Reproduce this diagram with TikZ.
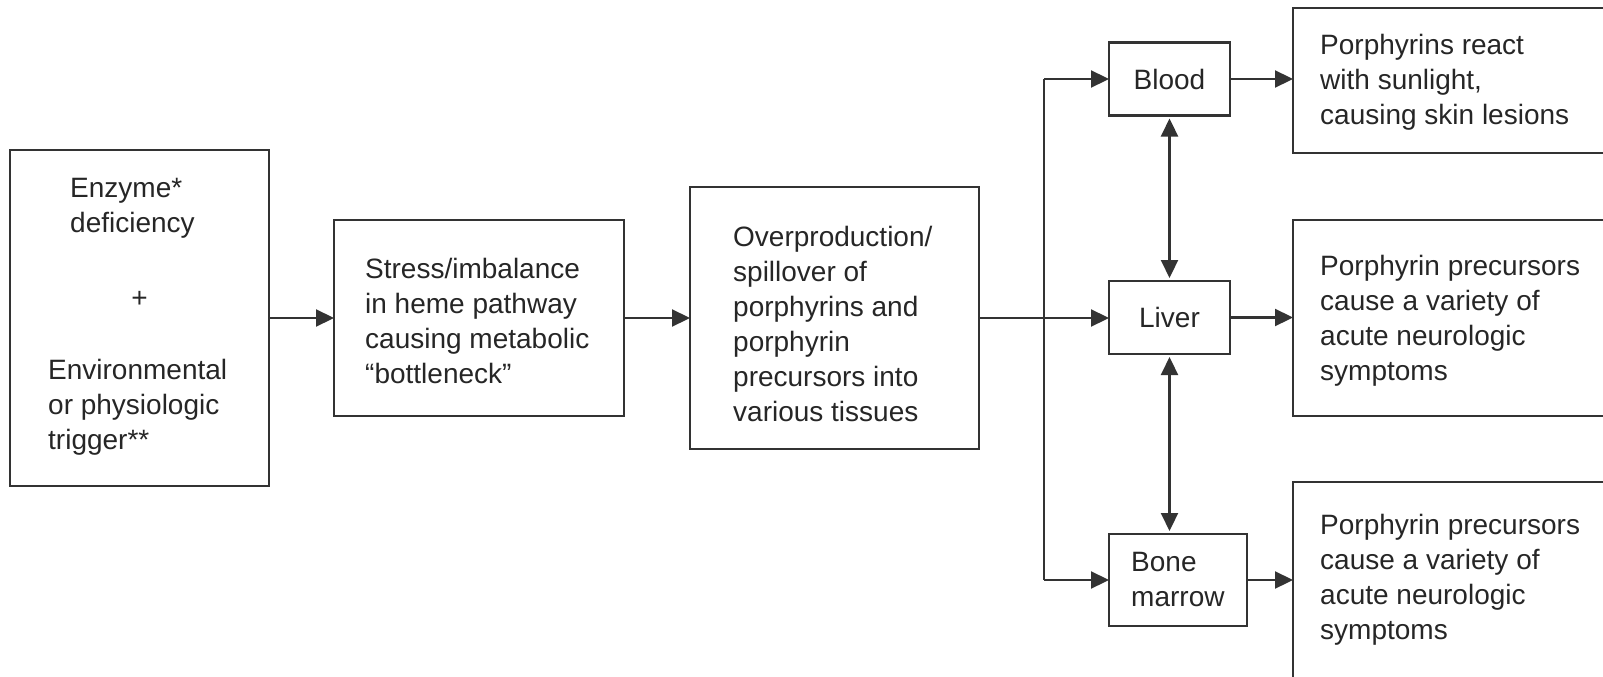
\documentclass[tikz,border=0pt]{standalone}
\usepackage{fontspec}
\setmainfont{Liberation Sans}
\usetikzlibrary{arrows.meta}
\definecolor{linec}{HTML}{333333}
\definecolor{txtc}{HTML}{262626}
\begin{document}
\begin{tikzpicture}[x=1pt,y=-1pt,
 box/.style={draw=linec,line width=2.2pt,inner sep=0pt,outer sep=0pt},
 txt/.style={text=txtc,font=\fontsize{28}{35}\selectfont,align=left,inner sep=0pt,anchor=west},
 arr/.style={draw=linec,line width=2.2pt,-{Triangle[length=18pt,width=17pt]}},
 darr/.style={draw=linec,line width=2.2pt,{Triangle[length=18pt,width=17pt]}-{Triangle[length=18pt,width=17pt]},shorten <=3pt,shorten >=3pt}]
\useasboundingbox (0,0) rectangle (1603,677);
% boxes
\node[box,minimum width=259pt,minimum height=336pt] (b1) at (139.5,318) {};
\node[box,minimum width=290pt,minimum height=196pt] (b2) at (479,318) {};
\node[box,minimum width=289pt,minimum height=262pt] (b3) at (834.5,318) {};
\node[box,minimum width=121pt,minimum height=73pt] (blood) at (1169.5,79) {};
\node[box,minimum width=121pt,minimum height=73pt] (liver) at (1169.5,317.5) {};
\node[box,minimum width=138pt,minimum height=92pt] (marrow) at (1178,580) {};
\node[box,minimum width=330pt,minimum height=145pt] (r1) at (1458,80.5) {};
\node[box,minimum width=330pt,minimum height=196pt] (r2) at (1458,318) {};
\node[box,minimum width=330pt,minimum height=208pt] (r3) at (1458,586) {};
% texts
\node[txt] (t1a) at (70,208) {Enzyme*\\deficiency};
\node[txt,anchor=center] (t1b) at (139.5,299) {+};
\node[txt] (t1c) at (48,407) {Environmental\\or physiologic\\trigger**};
\node[txt] (t2) at (365,321) {Stress/imbalance\\in heme pathway\\causing metabolic\\“bottleneck”};
\node[txt] (t3) at (733,324) {Overproduction/\\spillover of\\porphyrins and\\porphyrin\\precursors into\\various tissues};
\node[txt,anchor=center] (tblood) at (blood.center) {Blood};
\node[txt,anchor=center] (tliver) at (liver.center) {Liver};
\node[txt] (tmarrow) at (1131,579) {Bone\\marrow};
\node[txt] (tr1) at (1320,82) {Porphyrins react\\with sunlight,\\causing skin lesions};
\node[txt] (tr2) at (1320,321) {Porphyrin precursors\\cause a variety of\\acute neurologic\\symptoms};
\node[txt] (tr3) at (1320,580) {Porphyrin precursors\\cause a variety of\\acute neurologic\\symptoms};
% connectors
\coordinate (split) at (1044,318);
\draw[arr] (b1.east |- 0,318) -- (b2.west |- 0,318);
\draw[arr] (b2.east |- 0,318) -- (b3.west |- 0,318);
\draw[arr] (b3.east |- 0,318) -- (liver.west |- 0,318);
\draw[arr] (split |- blood.west) -- (blood.west);
\draw[arr] (split |- marrow.west) -- (marrow.west);
\draw[draw=linec,line width=2.2pt] (split |- blood.west) -- (split |- marrow.west);
\draw[darr] (blood.south) -- (liver.north);
\draw[darr] (liver.south) -- (liver.south |- marrow.north);
\draw[arr] (blood.east) -- (blood.east -| r1.west);
\draw[arr] (liver.east) -- (liver.east -| r2.west);
\draw[arr] (marrow.east) -- (marrow.east -| r3.west);
\end{tikzpicture}
\end{document}
